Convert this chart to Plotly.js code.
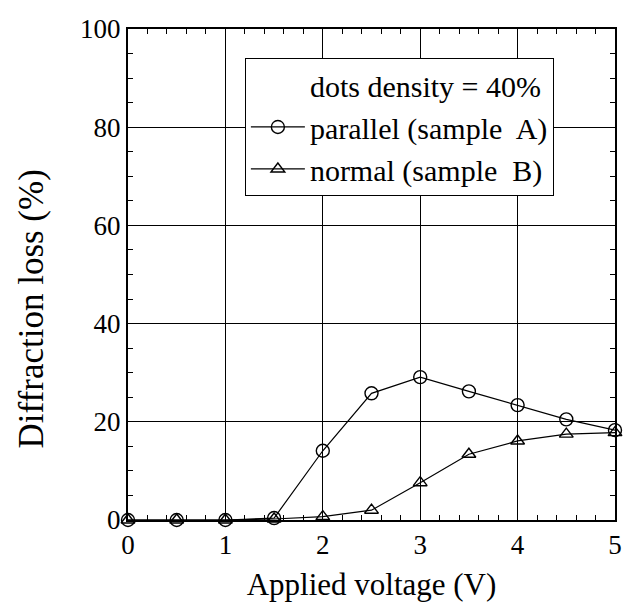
<!DOCTYPE html>
<html>
<head>
<meta charset="utf-8">
<script src="https://cdn.plot.ly/plotly-3.0.1.min.js"></script>
<style>html,body{margin:0;padding:0;background:#fff;}</style>
</head>
<body>
<div id="chart" style="width:625px;height:606px;"></div>
<script>
var voltage = [0, 0.5, 1, 1.5, 2, 2.5, 3, 3.5, 4, 4.5, 5];
var parallelA = [0, 0, 0, 0.4, 14.1, 25.8, 29.1, 26.2, 23.4, 20.5, 18.3];
var normalB = [0, 0, 0, 0.2, 0.7, 2.0, 7.6, 13.4, 16.1, 17.5, 17.8];
var legendNote = 'dots density = 40%';
var nameA = 'parallel (sample  A)';
var nameB = 'normal (sample  B)';
var xTitle = 'Applied voltage (V)';
var yTitle = 'Diffraction loss (%)';

var FONT = 'Liberation Serif';

var traces = [
  {x: [null], y: [null], mode: 'lines', name: legendNote,
   line: {color: 'rgba(0,0,0,0)', width: 0}, hoverinfo: 'skip'},
  {x: voltage, y: parallelA, mode: 'lines+markers', name: nameA,
   line: {color: '#000', width: 1.2},
   marker: {symbol: 'circle-open', size: 13, color: '#000', line: {width: 1.4}},
   cliponaxis: false},
  {x: voltage, y: normalB, mode: 'lines+markers', name: nameB,
   line: {color: '#000', width: 1.2},
   marker: {symbol: 'triangle-up-open', size: 12, color: '#000', line: {width: 1.4}},
   cliponaxis: false}
];

var layout = {
  width: 625, height: 606,
  margin: {l: 128, r: 10, t: 29, b: 86},
  paper_bgcolor: '#fff', plot_bgcolor: '#fff',
  font: {family: FONT, color: '#000', size: 26},
  showlegend: true,
  legend: {
    x: 0.24, y: 0.941, xanchor: 'left', yanchor: 'top',
    bgcolor: '#fff', bordercolor: '#000', borderwidth: 1,
    font: {family: FONT, size: 30, color: '#000'},
    itemwidth: 54, tracegroupgap: 0
  },
  annotations: [{
    text: yTitle, textangle: -90,
    xref: 'paper', yref: 'paper', x: -0.198, y: 0.43,
    xanchor: 'center', yanchor: 'middle', showarrow: false,
    font: {family: FONT, size: 35, color: '#000'}
  }],
  xaxis: {
    range: [0, 5], dtick: 1, tick0: 0,
    showgrid: true, gridcolor: '#000', gridwidth: 1,
    zeroline: false,
    showline: true, linecolor: '#000', linewidth: 2, mirror: 'ticks',
    ticks: 'inside', ticklen: 0, tickcolor: '#000',
    minor: {dtick: 0.2, ticks: 'inside', ticklen: 5, tickcolor: '#000', tickwidth: 1, showgrid: false},
    tickfont: {family: FONT, size: 27, color: '#000'},
    title: {text: xTitle, font: {family: FONT, size: 31, color: '#000'}, standoff: 14}
  },
  yaxis: {
    range: [0, 100], dtick: 20, tick0: 0,
    showgrid: true, gridcolor: '#000', gridwidth: 1,
    zeroline: false,
    showline: true, linecolor: '#000', linewidth: 2, mirror: 'ticks',
    ticks: 'inside', ticklen: 0, tickcolor: '#000',
    minor: {dtick: 5, ticks: 'inside', ticklen: 5, tickcolor: '#000', tickwidth: 1, showgrid: false},
    tickfont: {family: FONT, size: 27, color: '#000'}
  }
};

Plotly.newPlot('chart', traces, layout, {displayModeBar: false});
</script>
</body>
</html>
